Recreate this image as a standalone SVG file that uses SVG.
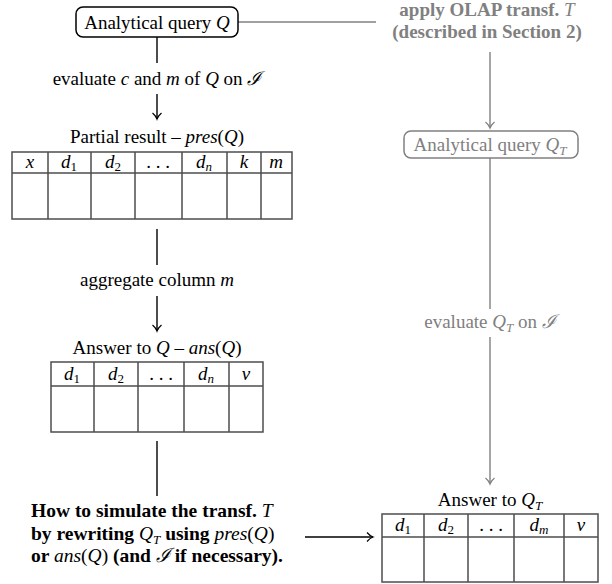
<svg xmlns="http://www.w3.org/2000/svg" width="612" height="584" viewBox="0 0 612 584" font-family="'Liberation Serif', 'Times New Roman', Tinos, 'DejaVu Serif', serif">
<style>
text{font-family:"Liberation Serif","Times New Roman",Tinos,"DejaVu Serif",serif;font-size:19px;fill:#000}
.b{font-weight:bold}
.i{font-style:italic;font-weight:normal}
.gt{fill:#808080}
.box{fill:#fff;stroke:#000;stroke-width:1.5}
.gbox{fill:#fff;stroke:#808080;stroke-width:1.5}
.tbl{fill:none;stroke:#4d4d4d;stroke-width:1.5}
.ln{stroke:#000;stroke-width:1.4;fill:none}
.gln{stroke:#808080;stroke-width:1.4;fill:none}
.c{text-anchor:middle}
</style>
<defs>
<marker id="ah" markerUnits="userSpaceOnUse" markerWidth="12" markerHeight="12" refX="10" refY="6" orient="auto">
<path d="M4 1.5 Q7 5 10 6 Q7 7 4 10.5" fill="none" stroke="#000" stroke-width="1.2"/>
</marker>
<marker id="gah" markerUnits="userSpaceOnUse" markerWidth="12" markerHeight="12" refX="10" refY="6" orient="auto">
<path d="M4 1.5 Q7 5 10 6 Q7 7 4 10.5" fill="none" stroke="#808080" stroke-width="1.2"/>
</marker>
</defs>

<g id="connectors">
<line class="ln" x1="157" y1="37" x2="157" y2="63"/>
<line class="ln" x1="157" y1="94" x2="157" y2="119" marker-end="url(#ah)"/>
<line class="ln" x1="157" y1="229" x2="157" y2="265"/>
<line class="ln" x1="157" y1="296" x2="157" y2="331" marker-end="url(#ah)"/>
<line class="ln" x1="157" y1="441" x2="157" y2="496"/>
<line class="ln" x1="305" y1="537" x2="373" y2="537" marker-end="url(#ah)"/>
<line class="gln" x1="238" y1="22" x2="376" y2="22"/>
<line class="gln" x1="490" y1="52" x2="490" y2="128" marker-end="url(#gah)"/>
<line class="gln" x1="490" y1="158" x2="490" y2="309"/>
<line class="gln" x1="490" y1="337" x2="490" y2="484" marker-end="url(#gah)"/>
</g>

<g id="labels">
<text class="c" x="157" y="85">evaluate <tspan class="i">c</tspan> and <tspan class="i">m</tspan> of <tspan class="i">Q</tspan> on <tspan class="i">ℐ</tspan></text>
<text class="c" x="157" y="286">aggregate column <tspan class="i">m</tspan></text>
<text class="c gt b" x="487" y="16">apply OLAP transf. <tspan class="i">T</tspan></text>
<text class="c gt b" x="487" y="38">(described in Section 2)</text>
<text class="c gt" x="490" y="328">evaluate <tspan class="i">Q</tspan><tspan class="i" font-size="13" dy="4">T</tspan><tspan dy="-4"> on </tspan><tspan class="i">ℐ</tspan></text>
</g>

<g id="query-Q">
<rect class="box" x="76" y="7" width="162" height="30" rx="7"/>
<text class="c" x="157" y="29">Analytical query <tspan class="i">Q</tspan></text>
</g>

<g id="query-QT">
<rect class="gbox" x="404" y="131" width="174" height="27" rx="7"/>
<text class="c gt" x="490" y="151">Analytical query <tspan class="i">Q</tspan><tspan class="i" font-size="13" dy="4">T</tspan></text>
</g>

<g id="partial-result">
<text class="c" x="157" y="143">Partial result – <tspan class="i">pres</tspan>(<tspan class="i">Q</tspan>)</text>
<rect class="tbl" x="12" y="152" width="280" height="67"/>
<path class="tbl" d="M12 173H292M48 152V219M91 152V219M135 152V219M182 152V219M227 152V219M261 152V219"/>
<text class="c i" x="30" y="168">x</text>
<text class="c" x="69" y="168"><tspan class="i">d</tspan><tspan font-size="13" dy="3">1</tspan></text>
<text class="c" x="113" y="168"><tspan class="i">d</tspan><tspan font-size="13" dy="3">2</tspan></text>
<text class="c" x="158" y="168">. . .</text>
<text class="c" x="204" y="168"><tspan class="i">d</tspan><tspan class="i" font-size="13" dy="3">n</tspan></text>
<text class="c i" x="244" y="168">k</text>
<text class="c i" x="276" y="168">m</text>
</g>

<g id="answer-Q">
<text class="c" x="157" y="354">Answer to <tspan class="i">Q</tspan> – <tspan class="i">ans</tspan>(<tspan class="i">Q</tspan>)</text>
<rect class="tbl" x="51" y="362" width="212" height="70"/>
<path class="tbl" d="M51 386H263M94 362V432M138 362V432M184 362V432M229 362V432"/>
<text class="c" x="72" y="380"><tspan class="i">d</tspan><tspan font-size="13" dy="3">1</tspan></text>
<text class="c" x="116" y="380"><tspan class="i">d</tspan><tspan font-size="13" dy="3">2</tspan></text>
<text class="c" x="161" y="380">. . .</text>
<text class="c" x="206" y="380"><tspan class="i">d</tspan><tspan class="i" font-size="13" dy="3">n</tspan></text>
<text class="c i" x="246" y="380">v</text>
</g>

<g id="answer-QT">
<text class="c" x="490" y="506">Answer to <tspan class="i">Q</tspan><tspan class="i" font-size="13" dy="4">T</tspan></text>
<rect class="tbl" x="382" y="514" width="216" height="68"/>
<path class="tbl" d="M382 537H598M424 514V582M468 514V582M514 514V582M564 514V582"/>
<text class="c" x="403" y="531"><tspan class="i">d</tspan><tspan font-size="13" dy="3">1</tspan></text>
<text class="c" x="446" y="531"><tspan class="i">d</tspan><tspan font-size="13" dy="3">2</tspan></text>
<text class="c" x="491" y="531">. . .</text>
<text class="c" x="539" y="531"><tspan class="i">d</tspan><tspan class="i" font-size="13" dy="3">m</tspan></text>
<text class="c i" x="581" y="531">v</text>
</g>

<g id="simulate" font-size="19.5">
<text class="b" x="31" y="517" style="font-size:19.5px">How to simulate the transf. <tspan class="i">T</tspan></text>
<text class="b" x="31" y="540" style="font-size:19.5px">by rewriting <tspan class="i">Q</tspan><tspan class="i" font-size="13" dy="4">T</tspan><tspan dy="-4"> using </tspan><tspan class="i">pres</tspan><tspan font-weight="normal">(</tspan><tspan class="i">Q</tspan><tspan font-weight="normal">)</tspan></text>
<text class="b" x="31" y="562" style="font-size:19.5px">or <tspan class="i">ans</tspan><tspan font-weight="normal">(</tspan><tspan class="i">Q</tspan><tspan font-weight="normal">)</tspan> (and <tspan class="i">ℐ</tspan> if necessary).</text>
</g>
</svg>
